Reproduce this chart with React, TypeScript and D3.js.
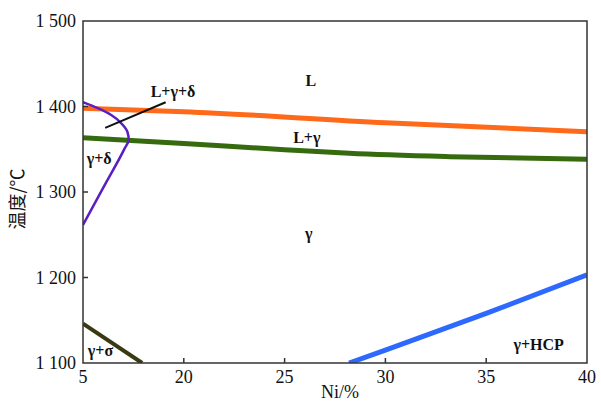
import React from "react";
import * as d3 from "d3";

// ---- data (Ni %, temperature °C) ----
const xTicks = [5, 20, 25, 30, 35, 40];
const xTickLabels = ["5", "20", "25", "30", "35", "40"];
const yTicks = [1100, 1200, 1300, 1400, 1500];
const yTickLabels = ["1 100", "1 200", "1 300", "1 400", "1 500"];

const liquidus: [number, number][] = [[5, 1398], [20, 1394], [30, 1381], [40, 1370.5]];
const solidus: [number, number][] = [[5, 1363.5], [20, 1356.7], [25, 1349.5], [28.2, 1345.3], [33.2, 1341.3], [40, 1338.2]];
const deltaBoundary: [number, number][] = [
  [5, 1405], [7.2, 1398], [9.2, 1390], [10.7, 1380.4], [11.6, 1370.6], [11.8, 1361],
  [11.2, 1351], [8.1, 1306.3], [5, 1261.4],
];
const hcpBoundary: [number, number][] = [[28.2, 1100], [30, 1115], [35, 1158], [40, 1203]];
const sigmaBoundary: [number, number][] = [[5, 1146], [13.8, 1100]];
const pointer: [number, number][] = [[8.3, 1375], [17.3, 1405]];

const phaseLabels = [
  { text: "L", x: 26.3, T: 1424 },
  { text: "L+γ+δ", x: 18.4, T: 1411 },
  { text: "L+γ", x: 26.1, T: 1357.5 },
  { text: "γ+δ", x: 7.4, T: 1333 },
  { text: "γ", x: 26.2, T: 1245 },
  { text: "γ+σ", x: 7.6, T: 1108 },
  { text: "γ+HCP", x: 37.6, T: 1115 },
];

const W = 601, H = 401;
const left = 83, right = 587, top = 21, bottom = 363;

export default function App() {
  // broken axis: 5 → 20 spans the same width as one 5-unit step
  const x = d3.scaleLinear().domain([5, 20, 40]).range([left, left + (right - left) / 5, right]);
  const y = d3.scaleLinear().domain([1100, 1500]).range([bottom, top]);

  const smooth = d3.line<[number, number]>().x(d => x(d[0])).y(d => y(d[1])).curve(d3.curveMonotoneX);
  const smoothY = d3.line<[number, number]>().x(d => x(d[0])).y(d => y(d[1])).curve(d3.curveMonotoneY);
  const straight = d3.line<[number, number]>().x(d => x(d[0])).y(d => y(d[1]));

  const serif = "'Liberation Serif', 'Times New Roman', serif";

  return (
    <svg width={W} height={H} style={{ position: "absolute", left: 0, top: 0, background: "#fff" }}>
      <defs>
        <clipPath id="plot">
          <rect x={left} y={top} width={right - left} height={bottom - top} />
        </clipPath>
      </defs>
      <g clipPath="url(#plot)" fill="none" strokeLinecap="butt">
        <path d={smooth(liquidus) || ""} stroke="#ff6a1a" strokeWidth={5} />
        <path d={smooth(solidus) || ""} stroke="#356b0e" strokeWidth={5} />
        <path d={smoothY(deltaBoundary) || ""} stroke="#5a1fc0" strokeWidth={2.5} />
        <path d={straight(hcpBoundary) || ""} stroke="#2d68ff" strokeWidth={5} />
        <path d={straight(sigmaBoundary) || ""} stroke="#3a3a12" strokeWidth={4} />
        <path d={straight(pointer) || ""} stroke="#111" strokeWidth={2} />
      </g>

      {/* frame */}
      <rect x={left} y={top} width={right - left} height={bottom - top} fill="none" stroke="#333" strokeWidth={1.5} />

      {/* x ticks */}
      {xTicks.map((t, i) => (
        <g key={"x" + t}>
          {i > 0 && i < xTicks.length - 1 && (
            <line x1={x(t)} x2={x(t)} y1={bottom} y2={bottom - 5} stroke="#333" strokeWidth={1.5} />
          )}
          <text x={x(t)} y={383} textAnchor="middle" fontFamily={serif} fontSize={18} fill="#111">
            {xTickLabels[i]}
          </text>
        </g>
      ))}
      {/* y ticks */}
      {yTicks.map((t, i) => (
        <g key={"y" + t}>
          {i > 0 && i < yTicks.length - 1 && (
            <line x1={left} x2={left + 5} y1={y(t)} y2={y(t)} stroke="#333" strokeWidth={1.5} />
          )}
          <text x={76} y={y(t) + 6} textAnchor="end" fontFamily={serif} fontSize={18} fill="#111">
            {yTickLabels[i]}
          </text>
        </g>
      ))}

      {/* axis titles */}
      <text x={340} y={398} textAnchor="middle" fontFamily={serif} fontSize={18} fill="#111">Ni/%</text>
      <text
        transform={`translate(24, 199) rotate(-90)`}
        textAnchor="middle"
        fontFamily="'Noto Sans CJK SC', sans-serif"
        fontSize={18}
        fill="#111"
      >
        温度/℃
      </text>

      {/* phase labels */}
      {phaseLabels.map(l => (
        <text
          key={l.text}
          x={x(l.x)}
          y={y(l.T)}
          textAnchor="middle"
          fontFamily={serif}
          fontWeight="bold"
          fontSize={16}
          fill="#111"
        >
          {l.text}
        </text>
      ))}
    </svg>
  );
}
